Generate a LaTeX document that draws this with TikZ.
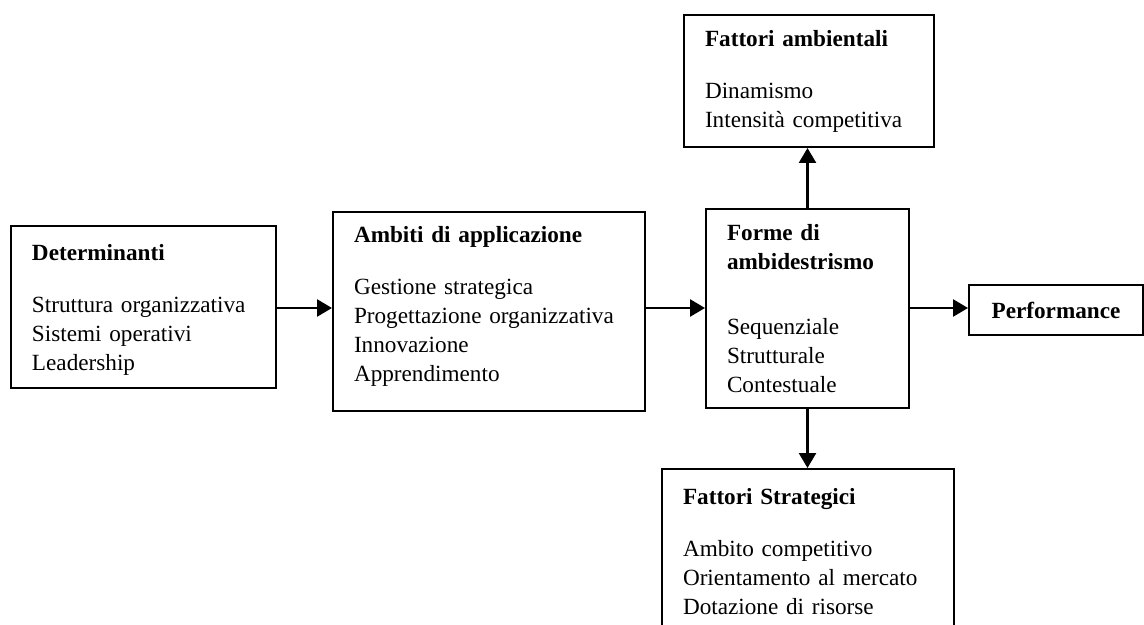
\documentclass[tikz,border=0pt]{standalone}
\usepackage{fontspec}
\setmainfont{Liberation Serif}
\usepackage{tikz}
\usetikzlibrary{arrows.meta,calc,positioning}
\definecolor{ink}{RGB}{0,0,0}
\def\RowY{308}
\tikzset{
  blk/.style={
    draw=ink, line width=1pt, align=left, inner xsep=10.5pt, inner ysep=0pt,
    font=\fontsize{11.6}{14.5}\selectfont,
  },
  perfbox/.style={
    draw=ink, line width=1pt, align=center, inner sep=0pt,
    minimum width=87pt, minimum height=25pt,
    font=\fontsize{11.6}{14.5}\selectfont\bfseries,
  },
  arr/.style={-{Triangle[length=7.5pt,width=8.5pt]}, line width=1.3pt, draw=ink},
}

\begin{document}
\begin{tikzpicture}[x=0.5pt,y=-0.5pt]
  \useasboundingbox (0,0) rectangle (1144,625);
  \clip (0,0) rectangle (1144,625);

  % text blocks sit a little off centre in the original, hence the empty \mbox lines
  \node[blk, text width=111.5pt, minimum height=81pt] (det) at (143.5,307) {%
    \mbox{}\\[-3.6pt]
    \textbf{Determinanti}\\[11.5pt]
    Struttura organizzativa\\
    Sistemi operativi\\
    Leadership};
  \node[blk, text width=135pt, minimum height=99.5pt] (amb) at (489,311.5) {%
    \textbf{Ambiti di applicazione}\\[11.5pt]
    Gestione strategica\\
    Progettazione organizzativa\\
    Innovazione\\
    Apprendimento\\[-7pt]
    \mbox{}};
  \node[blk, text width=80.5pt, minimum height=99.5pt] (frm) at (807.5,308.5) {%
    \textbf{Forme di}\\
    \textbf{ambidestrismo}\\[18pt]
    Sequenziale\\
    Strutturale\\
    Contestuale};
  \node[blk, text width=104pt, minimum height=66pt] (env) at (809,81) {%
    \textbf{Fattori ambientali}\\[11.5pt]
    Dinamismo\\
    Intensità competitiva};
  \node[perfbox] (perf) at (1056,310) {Performance};
  \node[blk, text width=125pt, minimum height=83pt] (strat) at (808,552) {%
    \textbf{Fattori Strategici}\\[11.5pt]
    Ambito competitivo\\
    Orientamento al mercato\\
    Dotazione di risorse};

  \draw[arr] (det.east |- 0,\RowY) -- (amb.west |- 0,\RowY);
  \draw[arr] (amb.east |- 0,\RowY) -- (frm.west |- 0,\RowY);
  \draw[arr] (frm.east |- 0,\RowY) -- (perf.west |- 0,\RowY);
  \draw[arr] (frm.north) -- (frm.north |- env.south);
  \draw[arr] (frm.south) -- (frm.south |- strat.north);
\end{tikzpicture}
\end{document}
